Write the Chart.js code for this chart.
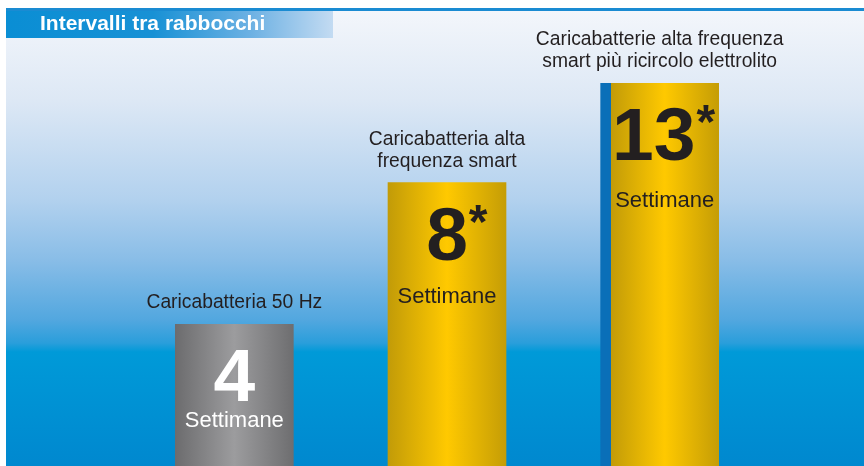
<!DOCTYPE html>
<html>
<head>
<meta charset="utf-8">
<script src="https://cdn.jsdelivr.net/npm/chart.js@4.4.1/dist/chart.umd.min.js"></script>
<style>
  html, body { margin: 0; padding: 0; background: #fff; overflow: hidden; }
  #wrap { width: 864px; height: 466px; position: relative; }
</style>
</head>
<body>
<div id="wrap"><canvas id="chart"></canvas></div>
<script>
// data
const title = 'Intervalli tra rabbocchi';
const chargers = [
  ['Caricabatteria 50 Hz'],
  ['Caricabatteria alta', 'frequenza smart'],
  ['Caricabatterie alta frequenza', 'smart più ricircolo elettrolito']
];
const weeks = [4, 8, 13];
const footnoteMarks = ['', '*', '*'];
const unitLabel = 'Settimane';

// look of each bar (style only)
const barLook = ['grey', 'gold', 'goldStripe'];
const numberColor = ['#ffffff', '#231f20', '#231f20'];
const unitColor = ['#ffffff', '#231f20', '#231f20'];
const numberShift = [0, 0, -6];
const unitDrop = [103, 120, 124];

const BAR_W = 118;

function barFill(ctx) {
  const chart = ctx.chart;
  const area = chart.chartArea;
  const fallback = barLook[ctx.dataIndex] === 'grey' ? '#8a8a8c' : '#e8b800';
  if (!area || !isFinite(area.left) || !isFinite(area.right)) return fallback;
  const step = (area.right - area.left) / weeks.length;
  const cx = area.left + step * (ctx.dataIndex + 0.5);
  if (!isFinite(cx)) return fallback;
  const g = chart.ctx.createLinearGradient(cx - BAR_W / 2, 0, cx + BAR_W / 2, 0);
  const look = barLook[ctx.dataIndex];
  if (look === 'grey') {
    g.addColorStop(0, '#6c6c6e');
    g.addColorStop(0.5, '#9c9c9e');
    g.addColorStop(1, '#6e6e70');
  } else if (look === 'gold') {
    g.addColorStop(0, '#c29b08');
    g.addColorStop(0.5, '#ffc900');
    g.addColorStop(1, '#c59d06');
  } else {
    const s = 10 / BAR_W;
    g.addColorStop(0, '#0a6fb8');
    g.addColorStop(s, '#0a6fb8');
    g.addColorStop(s + 0.001, '#c29b08');
    g.addColorStop(s + (1 - s) / 2, '#ffc900');
    g.addColorStop(1, '#c59d06');
  }
  return g;
}

// backdrop: sky gradient, top rule and header band
const backdrop = {
  id: 'backdrop',
  beforeDraw(chart) {
    const c = chart.ctx;
    const W = chart.width, H = chart.height;
    c.save();
    c.fillStyle = '#ffffff';
    c.fillRect(0, 0, W, H);

    const bg = c.createLinearGradient(0, 11, 0, H);
    const span = H - 11;
    const stop = (y, col) => bg.addColorStop((y - 11) / span, col);
    stop(11, '#f3f6fb');
    stop(100, '#dde8f5');
    stop(200, '#b2d1ee');
    stop(260, '#89bde7');
    stop(320, '#52a7df');
    stop(343, '#2a9edb');
    stop(352, '#009ad8');
    stop(466, '#0088cf');
    c.fillStyle = bg;
    c.fillRect(6, 11, W - 6, H - 11);

    c.fillStyle = '#1a8bd2';
    c.fillRect(6, 8, W - 6, 3);

    const band = c.createLinearGradient(6, 0, 333, 0);
    band.addColorStop(0, '#0a8ed4');
    band.addColorStop(0.45, '#1891d5');
    band.addColorStop(0.75, '#6db1e3');
    band.addColorStop(1, '#c3dbf2');
    c.fillStyle = band;
    c.fillRect(6, 11, 327, 27);

    c.fillStyle = '#ffffff';
    c.font = 'bold 21px "Liberation Sans", Arial, sans-serif';
    c.textBaseline = 'alphabetic';
    c.textAlign = 'left';
    c.fillText(title, 40, 30);
    c.restore();
  }
};

// texts above and inside bars
const barTexts = {
  id: 'barTexts',
  afterDatasetsDraw(chart) {
    const c = chart.ctx;
    const meta = chart.getDatasetMeta(0);
    c.save();
    meta.data.forEach((bar, i) => {
      const cx = bar.x, top = bar.y;

      // category caption
      c.fillStyle = '#231f20';
      c.font = '19.3px "Liberation Sans", Arial, sans-serif';
      c.textAlign = 'center';
      c.textBaseline = 'alphabetic';
      const lines = chargers[i];
      lines.forEach((ln, k) => {
        const y = top - 16 - (lines.length - 1 - k) * 22;
        c.fillText(ln, cx, y);
      });

      // big number
      const numY = top + 77;
      c.font = 'bold 75px "Liberation Sans", Arial, sans-serif';
      c.fillStyle = numberColor[i];
      const txt = String(weeks[i]);
      const nx = cx + numberShift[i];
      c.fillText(txt, nx, numY);
      if (footnoteMarks[i]) {
        const w = c.measureText(txt).width;
        c.font = 'bold 48px "Liberation Sans", Arial, sans-serif';
        c.textAlign = 'left';
        c.fillText(footnoteMarks[i], nx + w / 2 + 1, numY - 22);
        c.textAlign = 'center';
      }

      // unit
      c.font = '22px "Liberation Sans", Arial, sans-serif';
      c.fillStyle = unitColor[i];
      c.fillText(unitLabel, cx + (i === 2 ? 5 : 0), top + unitDrop[i]);
    });
    c.restore();
  }
};

new Chart(document.getElementById('chart'), {
  type: 'bar',
  data: {
    labels: chargers.map(l => l.join(' ')),
    datasets: [{
      data: weeks,
      backgroundColor: barFill,
      borderWidth: 0,
      barThickness: BAR_W,
      categoryPercentage: 1,
      barPercentage: 1
    }]
  },
  options: {
    responsive: true,
    maintainAspectRatio: false,
    animation: false,
    layout: { padding: { top: 41, left: 128, right: 98, bottom: 0 } },
    scales: {
      x: { display: false, offset: true, grid: { display: false } },
      y: { type: 'logarithmic', display: false, min: 2, max: 16 }
    },
    plugins: {
      legend: { display: false },
      tooltip: { enabled: false }
    }
  },
  plugins: [backdrop, barTexts]
});
</script>
</body>
</html>
